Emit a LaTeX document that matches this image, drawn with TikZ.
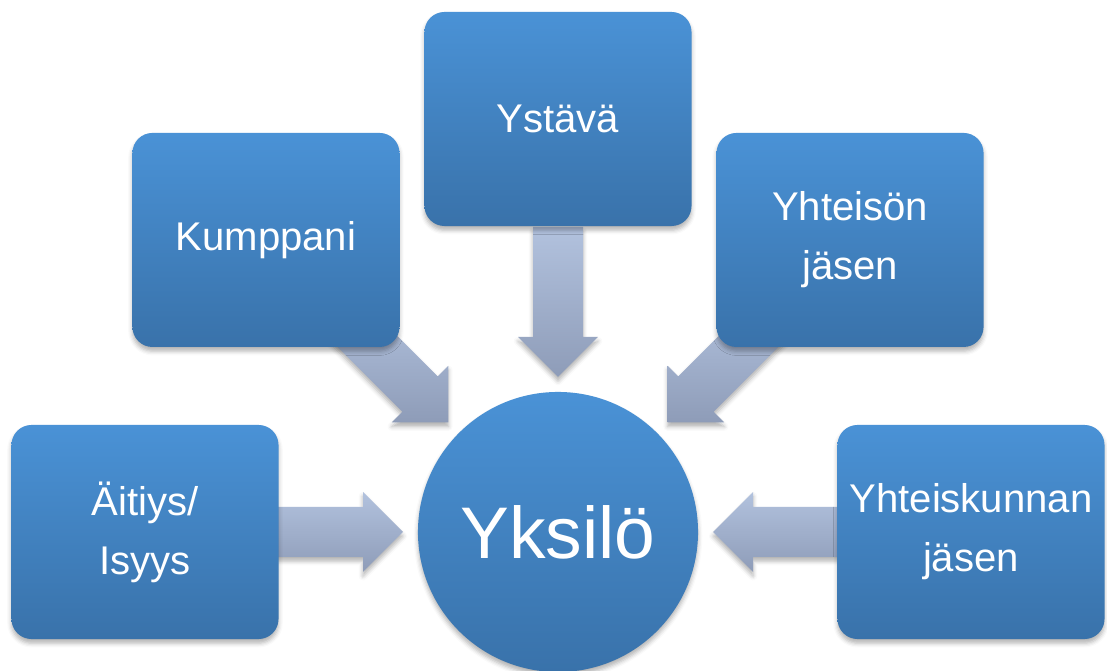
\documentclass[tikz,border=0pt]{standalone}
\usepackage{fontspec}
\setmainfont{Liberation Sans}
\usetikzlibrary{calc,shadows.blur}

\definecolor{boxtop}{RGB}{74,146,214}
\definecolor{boxbot}{RGB}{57,114,170}
\definecolor{flowtop}{RGB}{178,194,222}
\definecolor{flowbot}{RGB}{142,156,184}

\begin{document}
\begin{tikzpicture}[x=0.025cm, y=0.025cm,
  soft/.style={blur shadow={shadow xshift=0pt, shadow yshift=-3pt,
      shadow blur radius=3pt, shadow opacity=30}},
  role/.style={rectangle, rounded corners=0.5cm, minimum width=6.675cm,
      minimum height=5.35cm, top color=boxtop, bottom color=boxbot,
      text=white, align=center, font=\fontsize{28.5}{42}\selectfont, soft},
  core/.style={circle, minimum size=7cm, inner sep=0pt, top color=boxtop,
      bottom color=boxbot, text=white, font=\fontsize{52}{60}\selectfont, soft},
  flow/.style={top color=flowtop, bottom color=flowbot, soft}]
  \useasboundingbox (0,0) rectangle (1107,671);

  % centre
  \node[core] (self) at (558,139) {Yksilö};

  % block arrows, tails hidden under the boxes
  \foreach \a in {0,45,...,180}
    \shade[flow, shift={($(self)+(\a:155)$)}, rotate=\a]
      (0,0) -- (40,40) -- (40,25) -- (150,25) -- (150,-25)
      -- (40,-25) -- (40,-40) -- cycle;

  % roles round the person
  \node[role] (parent) at ($(self)+(180:413)$) {Äitiys/\\Isyys};
  \node[role] (partner) at ($(self)+(135:413)$) {Kumppani};
  \node[role] (friend) at ($(self)+(90:413)$) {Ystävä};
  \node[role] (member) at ($(self)+(45:413)$) {Yhteisön\\jäsen};
  \node[role] (citizen) at ($(self)+(0:413)$) {Yhteiskunnan\\jäsen};

\end{tikzpicture}
\end{document}
